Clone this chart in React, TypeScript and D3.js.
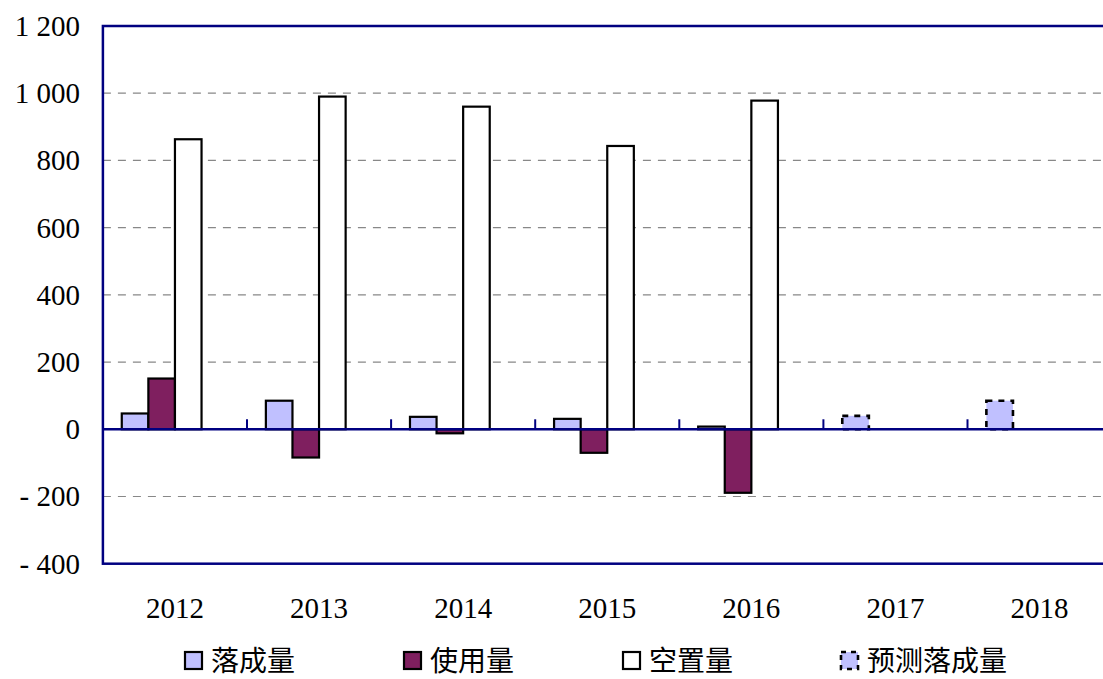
import React from "react";
import * as d3 from "d3";

const years = ["2012", "2013", "2014", "2015", "2016", "2017", "2018"];
const completed: (number | null)[] = [47, 85, 37, 31, 8, null, null];
const used: (number | null)[] = [151, -84, -12, -70, -189, null, null];
const vacant: (number | null)[] = [863, 990, 960, 843, 978, null, null];
const forecast: (number | null)[] = [null, null, null, null, null, 40, 85];
const yTicks = [-400, -200, 0, 200, 400, 600, 800, 1000, 1200];
const legendLabels = ["落成量", "使用量", "空置量", "预测落成量"];
const slots = ["s0", "s1", "s2", "s3"];

const W = 1103;
const H = 679;
const plotL = 102.9;
const plotR = 1111.6;
const plotT = 26;
const plotB = 563.7;

const NAVY = "#000080";
const LAV = "#C0C0FF";
const PLUM = "#7F1F5F";
const SERIF = "Liberation Serif, Times New Roman, serif";

function fmt(v: number): string {
  const a = Math.abs(v);
  const s = a >= 1000 ? `${Math.floor(a / 1000)} ${String(a % 1000).padStart(3, "0")}` : String(a);
  return v < 0 ? `- ${s}` : s;
}

export default function App() {
  const x = d3.scaleBand<string>().domain(years).range([plotL, plotR]).paddingInner(0).paddingOuter(0);
  const xs = d3.scaleBand<string>().domain(slots).range([0, x.bandwidth()]).paddingInner(0).paddingOuter(0.71);
  const y = d3.scaleLinear().domain([-400, 1200]).range([plotB, plotT]);

  const series = [
    { vals: completed, slot: "s0", fill: LAV, dash: null as string | null, sw: 2.2 },
    { vals: used, slot: "s1", fill: PLUM, dash: null, sw: 2.2 },
    { vals: vacant, slot: "s2", fill: "#FFFFFF", dash: null, sw: 2.2 },
    { vals: forecast, slot: "s0", fill: LAV, dash: "6,6", sw: 2.6 },
  ];

  const legendX = [185, 404, 623, 841];
  const legendFills = [LAV, PLUM, "#FFFFFF", LAV];
  const legendY = 652;

  return (
    <svg width={W} height={H} style={{ position: "absolute", left: 0, top: 0, background: "#fff" }}>
      {yTicks
        .filter((t) => t !== 0 && t !== 1200 && t !== -400)
        .map((t) => (
          <line key={"g" + t} x1={plotL} x2={plotR} y1={y(t)} y2={y(t)} stroke="#888" strokeWidth={1.2} strokeDasharray="8,7" />
        ))}
      {series.map((s, si) =>
        s.vals.map((v, i) => {
          if (v === null) return null;
          const bx = (x(years[i]) as number) + (xs(s.slot) as number);
          const y0 = y(0);
          const y1 = y(v);
          return (
            <rect
              key={`b${si}-${i}`}
              x={bx}
              y={Math.min(y0, y1)}
              width={xs.bandwidth()}
              height={Math.abs(y1 - y0)}
              fill={s.fill}
              stroke="#000"
              strokeWidth={s.sw}
              strokeDasharray={s.dash ?? undefined}
            />
          );
        })
      )}
      <line x1={plotL} x2={plotR} y1={y(0)} y2={y(0)} stroke={NAVY} strokeWidth={2.5} />
      {years.slice(1).map((yr) => (
        <line key={"t" + yr} x1={x(yr)} x2={x(yr)} y1={y(0)} y2={y(0) - 10} stroke={NAVY} strokeWidth={2} />
      ))}
      <rect x={plotL} y={plotT} width={plotR - plotL} height={plotB - plotT} fill="none" stroke={NAVY} strokeWidth={2.5} />
      {yTicks.map((t) => (
        <text key={"yl" + t} x={80} y={y(t) + 10} textAnchor="end" fontFamily={SERIF} fontSize={29} fill="#000">
          {fmt(t)}
        </text>
      ))}
      {years.map((yr) => (
        <text
          key={"xl" + yr}
          x={(x(yr) as number) + x.bandwidth() / 2}
          y={618}
          textAnchor="middle"
          fontFamily={SERIF}
          fontSize={29}
          fill="#000"
        >
          {yr}
        </text>
      ))}
      {legendLabels.map((lab, i) => (
        <g key={"lg" + i}>
          <rect
            x={legendX[i]}
            y={legendY}
            width={17}
            height={17}
            fill={legendFills[i]}
            stroke="#000"
            strokeWidth={i === 3 ? 2.6 : 2.2}
            strokeDasharray={i === 3 ? "5,5" : undefined}
          />
          <text x={legendX[i] + 26} y={legendY + 19} fontFamily="'Noto Sans CJK SC', sans-serif" fontSize={28} fill="#000">
            {lab}
          </text>
        </g>
      ))}
    </svg>
  );
}
